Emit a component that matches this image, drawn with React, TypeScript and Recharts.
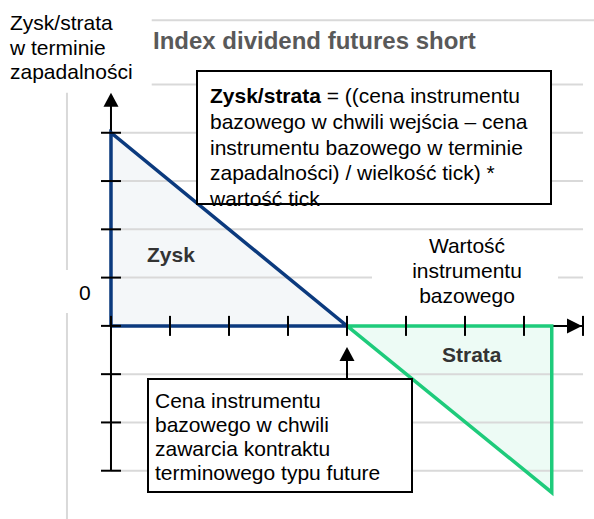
import { ComposedChart, XAxis, YAxis, Area, Line, ReferenceLine, ReferenceDot } from "recharts";

// payoff of a short index dividend future: entry price at 4 ticks
const xTicks = [0, 1, 2, 3, 4, 5, 6, 7, 8];
const yTicks = [-3, -2, -1, 0, 1, 2, 3, 4];
const gridTop = [6.33, 5];
const gridMid = [4, 3, 2, 1, -1, -2, -3];
const profitEdge = [
  { x: 0, y: 4 },
  { x: 4, y: 0 },
];
const profitOutline = [
  { x: 0, y: 0 },
  { x: 0, y: 4 },
  { x: 4, y: 0 },
  { x: 0, y: 0 },
];
const lossEdge = [
  { x: 4, y: 0 },
  { x: 7.47, y: -3.45 },
];
const lossOutline = [
  { x: 4, y: 0 },
  { x: 7.47, y: 0 },
  { x: 7.47, y: -3.45 },
  { x: 4, y: 0 },
];

const yLabelLines = ["Zysk/strata", "w terminie", "zapadalności"];
const xLabelLines = ["Wartość", "instrumentu", "bazowego"];
const formulaLines = [
  "bazowego w chwili wejścia – cena",
  "instrumentu bazowego w terminie",
  "zapadalności) / wielkość tick) *",
  "wartość tick",
];
const entryLines = [
  "Cena instrumentu",
  "bazowego w chwili",
  "zawarcia kontraktu",
  "terminowego typu future",
];

const W = 594;
const H = 519;
const FONT = "'Liberation Sans', Arial, sans-serif";
const NAVY = "#0b3a7e";
const GREEN = "#1ecb7b";
const GRID = "#d9d9d9";

const CrossTickX = (p: any) => (
  <line x1={p.cx} x2={p.cx} y1={p.cy - 10} y2={p.cy + 10} stroke="#000" strokeWidth={2} />
);
const CrossTickY = (p: any) => (
  <line x1={p.cx - 10} x2={p.cx + 10} y1={p.cy} y2={p.cy} stroke="#000" strokeWidth={2} />
);
const ArrowUp = (p: any) => (
  <polygon points={`${p.cx},${p.cy} ${p.cx - 7.5},${p.cy + 14} ${p.cx + 7.5},${p.cy + 14}`} fill="#000" />
);
const ArrowRight = (p: any) => (
  <polygon points={`${p.cx - 1},${p.cy} ${p.cx - 16},${p.cy - 7.5} ${p.cx - 16},${p.cy + 7.5}`} fill="#000" />
);

export default function App() {
  return (
    <div style={{ position: "absolute", left: 0, top: 0, width: W, height: H, background: "#fff" }}>
      <ComposedChart width={W} height={H} margin={{ top: 0, right: 0, bottom: 0, left: 0 }}>
        <XAxis type="number" dataKey="x" domain={[-1.881, 8.186]} allowDataOverflow hide />
        <YAxis type="number" dataKey="y" domain={[-4, 6.75]} allowDataOverflow hide />

        {gridTop.map((y) => (
          <ReferenceLine key={`gt${y}`} segment={[{ x: 0.69, y }, { x: y > 6 ? 8.186 : 8, y }]} stroke={GRID} strokeWidth={2} ifOverflow="visible" />
        ))}
        {gridMid.map((y) => (
          <ReferenceLine key={`gm${y}`} segment={[{ x: 0, y }, { x: 8, y }]} stroke={GRID} strokeWidth={2} />
        ))}
        <ReferenceLine segment={[{ x: -0.746, y: 4.83 }, { x: -0.746, y: -4 }]} stroke={GRID} strokeWidth={2} />

        <Area data={profitEdge} dataKey="y" type="linear" baseValue={0} stroke="none" fill={NAVY} fillOpacity={0.045} dot={false} activeDot={false} isAnimationActive={false} />
        <Area data={lossEdge} dataKey="y" type="linear" baseValue={0} stroke="none" fill={GREEN} fillOpacity={0.08} dot={false} activeDot={false} isAnimationActive={false} />

        <ReferenceLine segment={[{ x: 0, y: 0 }, { x: 8, y: 0 }]} stroke="#000" strokeWidth={2} />
        <ReferenceLine segment={[{ x: 0, y: -3 }, { x: 0, y: 4.75 }]} stroke="#000" strokeWidth={2} />
        <ReferenceLine segment={[{ x: 4, y: -0.6 }, { x: 4, y: -1.08 }]} stroke="#000" strokeWidth={2} />

        <Line data={profitOutline} dataKey="y" type="linear" stroke={NAVY} strokeWidth={3.5} dot={false} activeDot={false} isAnimationActive={false} />
        <Line data={lossOutline} dataKey="y" type="linear" stroke={GREEN} strokeWidth={3.5} dot={false} activeDot={false} isAnimationActive={false} />

        {xTicks.map((x) => (
          <ReferenceDot key={`xt${x}`} x={x} y={0} r={1} shape={CrossTickX} />
        ))}
        {yTicks.map((y) => (
          <ReferenceDot key={`yt${y}`} x={0} y={y} r={1} shape={CrossTickY} />
        ))}
        <ReferenceDot x={0} y={4.83} r={1} shape={ArrowUp} />
        <ReferenceDot x={8} y={0} r={1} shape={ArrowRight} />
        <ReferenceDot x={4} y={-0.435} r={1} shape={ArrowUp} />
      </ComposedChart>

      <svg width={W} height={H} style={{ position: "absolute", left: 0, top: 0, pointerEvents: "none" }} fontFamily={FONT}>
        <rect x={0} y={0} width={150} height={92} fill="#fff" />
        {yLabelLines.map((t, i) => (
          <text key={t} x={10} y={30 + i * 24.5} fontSize={21} fill="#000">{t}</text>
        ))}
        <rect x={58} y={270} width={40} height={43} fill="#fff" />
        <text x={79} y={300} fontSize={21} fill="#000">0</text>

        <text x={153} y={49} fontSize={24} fontWeight="bold" fill="#595959">
          Index dividend futures short
        </text>

        <rect x={197} y={71} width={354} height={133} fill="#fff" stroke="#000" strokeWidth={2} />
        <text x={210} y={103} fontSize={21} fill="#000">
          <tspan fontWeight="bold">Zysk/strata</tspan> = ((cena instrumentu
        </text>
        {formulaLines.map((t, i) => (
          <text key={t} x={210} y={129 + i * 25.5} fontSize={21} fill="#000">{t}</text>
        ))}

        <rect x={372} y={236} width={186} height={74} fill="#fff" />
        {xLabelLines.map((t, i) => (
          <text key={t} x={467} y={253 + i * 25} fontSize={21} fill="#000" textAnchor="middle">{t}</text>
        ))}

        <text x={147} y={262} fontSize={21} fontWeight="bold" fill="#333">Zysk</text>
        <text x={442} y={362} fontSize={21} fontWeight="bold" fill="#333">Strata</text>

        <rect x={148} y={379} width={264} height={113} fill="#fff" stroke="#000" strokeWidth={2} />
        {entryLines.map((t, i) => (
          <text key={t} x={155} y={408 + i * 24} fontSize={21} fill="#000">{t}</text>
        ))}
      </svg>
    </div>
  );
}
